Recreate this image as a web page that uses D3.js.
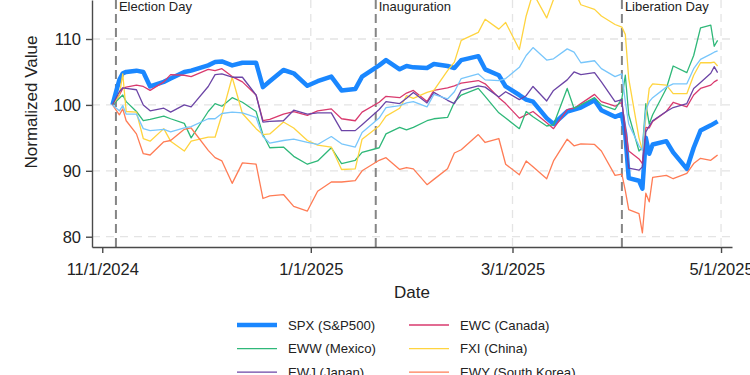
<!DOCTYPE html>
<html>
<head>
<meta charset="utf-8">
<script src="https://cdn.jsdelivr.net/npm/d3@7"></script>
<style>
body { margin: 0; background: #fff; }
text { font-family: "Liberation Sans", Arial, sans-serif; fill: #222; }
</style>
</head>
<body>
<svg></svg>
<script>
//variables globales
var width = 750;
var height = 375;

//los datos (dias de mercado)
var dates = [
  "2024-11-04","2024-11-06","2024-11-07","2024-11-08","2024-11-11","2024-11-13","2024-11-15","2024-11-19","2024-11-21","2024-11-25","2024-11-27",
  "2024-12-02","2024-12-04","2024-12-06","2024-12-09","2024-12-12","2024-12-16","2024-12-18","2024-12-20","2024-12-24","2024-12-27","2024-12-31",
  "2025-01-03","2025-01-07","2025-01-10","2025-01-14","2025-01-16","2025-01-21","2025-01-23","2025-01-27","2025-01-29","2025-01-31",
  "2025-02-04","2025-02-06","2025-02-10","2025-02-12","2025-02-14","2025-02-19","2025-02-21","2025-02-25","2025-02-27",
  "2025-03-03","2025-03-05","2025-03-07","2025-03-11","2025-03-13","2025-03-17","2025-03-19","2025-03-21","2025-03-25","2025-03-27","2025-03-31",
  "2025-04-02","2025-04-03","2025-04-04","2025-04-07","2025-04-08","2025-04-09","2025-04-10","2025-04-11","2025-04-15","2025-04-17","2025-04-21","2025-04-23","2025-04-25","2025-04-28","2025-04-29","2025-04-30"
];
var spx = [
  100, 103.8, 104.8, 105.0, 105.2, 105.0, 102.8, 103.5, 104.0, 105.0, 105.2,
  106.0, 106.5, 106.6, 106.0, 106.4, 106.4, 102.7, 103.6, 105.3, 104.8, 102.9,
  103.6, 104.3, 102.2, 102.4, 104.3, 106.0, 106.8, 105.4, 105.9, 105.7,
  105.6, 106.2, 105.9, 105.6, 106.8, 107.4, 105.4, 104.5, 102.8,
  101.5, 100.8, 100.5, 98.0, 97.1, 99.0, 99.3, 99.6, 100.7, 99.2, 98.2,
  98.6, 95.5, 88.9, 88.5, 87.3, 95.0, 92.6, 94.0, 94.5, 92.8, 90.3, 93.5, 96.1, 96.9, 97.2, 97.5
];
var ewc = [
  100, 101.5, 102.5, 102.7, 103.0, 102.8, 102.2, 103.5, 104.6, 104.5, 104.3,
  105.4, 105.2, 105.5, 104.3, 103.5, 101.5, 97.6, 97.8, 98.6, 99.0, 98.4,
  99.1, 99.4, 97.9, 97.6, 98.9, 100.4, 101.3, 101.1, 101.8, 102.2,
  100.5, 102.2, 102.6, 102.9, 103.3, 103.7, 103.2, 101.1, 100.2,
  98.0, 98.5, 99.0, 97.3, 96.4, 99.3, 99.5, 100.2, 101.6, 100.5, 99.8,
  100.4, 96.5, 93.0, 91.8, 91.1, 96.6, 96.5, 97.5, 99.0, 100.4, 99.7, 101.5, 102.5, 103.0, 103.5, 103.8
];
var eww = [
  100, 101.0, 101.5, 100.5, 99.0, 97.6, 97.8, 98.3, 97.9, 97.2, 95.0,
  99.0, 100.2, 99.8, 101.1, 100.4, 99.0, 95.5, 93.5, 93.6, 92.2, 91.0,
  91.5, 93.5, 91.1, 91.6, 92.8, 93.5, 95.6, 96.6, 96.2, 96.6,
  97.6, 97.9, 98.1, 100.4, 101.5, 102.5, 101.3, 98.8, 98.0,
  96.4, 99.0, 98.2, 96.8, 97.0, 102.5, 99.5, 100.0, 101.1, 100.0, 99.3,
  101.0, 104.5, 98.5, 93.0, 93.5, 100.2, 97.1, 98.5, 102.5, 105.9, 104.9, 107.5, 111.7, 112.1, 108.9, 109.8
];
var fxi = [
  100, 101.5, 104.7, 99.0, 98.9, 94.9, 94.5, 96.4, 94.5, 93.0, 94.5,
  95.1, 95.1, 98.5, 104.2, 98.7, 96.4, 95.5, 95.6, 97.4, 96.5, 94.6,
  93.9, 93.6, 90.2, 90.3, 94.8, 96.8, 98.3, 99.5, 101.4, 101.0,
  101.9, 102.2, 105.2, 106.5, 109.8, 111.0, 113.0, 111.5, 112.5,
  108.4, 113.5, 117.0, 113.2, 116.0, 118.0, 117.5, 115.2, 114.5, 113.5, 112.2,
  111.8, 110.7, 104.0, 95.0, 93.1, 98.1, 102.5, 103.2, 103.0, 101.7, 101.7, 104.5, 106.4, 106.4, 106.5, 105.9
];
var ewj = [
  100, 102.0, 102.6, 102.5, 102.3, 100.0, 99.1, 99.5, 98.9, 100.0, 99.7,
  102.8, 104.6, 104.7, 104.2, 104.2, 101.5, 97.4, 97.5, 97.6, 99.2, 98.6,
  98.8, 98.8, 96.1, 96.1, 97.0, 99.3, 100.5, 100.2, 101.0, 101.9,
  100.3, 101.9, 100.7, 100.2, 102.2, 102.9, 102.7, 101.2, 102.0,
  100.8, 101.4, 102.8, 100.6, 102.2, 103.8, 105.0, 104.6, 104.9, 103.5, 100.5,
  100.8, 95.0, 90.4, 90.1, 90.6, 95.9, 96.8, 97.6, 99.0, 99.6, 100.2, 102.5, 103.4, 104.8, 105.8, 104.9
];
var ewy = [
  100, 98.5, 99.4, 97.6, 95.6, 92.6, 92.4, 94.4, 94.6, 96.3, 96.5,
  93.1, 92.0, 91.5, 88.1, 91.2, 91.0, 85.8, 86.2, 86.4, 84.6, 83.9,
  86.9, 88.3, 88.3, 88.5, 90.0, 91.6, 92.0, 90.2, 90.5, 90.3,
  87.9, 88.7, 90.3, 92.7, 93.2, 95.5, 94.3, 94.9, 91.0,
  89.4, 91.5, 90.6, 88.8, 91.5, 94.8, 93.8, 94.1, 94.0, 93.0, 89.3,
  89.5, 87.0, 84.1, 83.5, 80.6, 86.6, 85.3, 89.0, 89.3, 88.8, 89.6, 91.1, 91.9, 91.6, 92.0, 92.4
];
var ewg = [
  100, 99.1, 99.9, 98.6, 98.6, 96.4, 96.1, 96.3, 95.9, 96.5, 96.7,
  97.9, 97.9, 98.7, 98.9, 98.8, 98.1, 95.2, 94.2, 94.6, 94.8, 94.3,
  94.0, 95.2, 94.1, 93.6, 95.8, 98.0, 99.6, 99.9, 100.3, 100.5,
  99.7, 101.6, 100.9, 102.0, 104.0, 104.7, 103.8, 103.7, 104.0,
  105.7, 107.5, 108.7, 106.8, 107.0, 108.5, 108.0, 106.4, 106.7, 105.5, 104.3,
  104.7, 100.5, 97.1, 93.8, 93.1, 99.1, 100.5, 101.1, 102.7, 103.2, 103.2, 105.5, 106.9, 107.7, 108.0, 108.2
];
var seriesNames = ["SPX (S&P500)", "EWC (Canada)", "EWW (Mexico)", "FXI (China)", "EWJ (Japan)", "EWY (South Korea)", "EWG (Germany)"];
var seriesValues = [spx, ewc, eww, fxi, ewj, ewy, ewg];
var yTicks = [80, 90, 100, 110];
var xTickLabels = ["11/1/2024", "1/1/2025", "3/1/2025", "5/1/2025"];
var eventNames = ["Election Day", "Inauguration", "Liberation Day"];
var eventDates = ["2024-11-05", "2025-01-20", "2025-04-02"];

//estilos
var colors = ["#1a87ff", "#d93a6e", "#2fb879", "#ffd43f", "#6c45a6", "#ff7c55", "#78c6fb"];
var widths = [4.5, 1.3, 1.3, 1.3, 1.3, 1.3, 1.3];

var parseDay = d3.utcParse("%Y-%m-%d");
var parseTick = d3.utcParse("%m/%d/%Y");

var series = seriesNames.map(function(name, k) {
  return { name: name, color: colors[k], width: widths[k],
    values: dates.map(function(d, i) { return { date: parseDay(d), value: seriesValues[k][i] }; }) };
});

//escalas
var x = d3.scaleUtc()
  .domain([new Date(Date.UTC(2024, 9, 29)), new Date(Date.UTC(2025, 4, 4, 5))])
  .range([92, 732]);
var y = d3.scaleLinear()
  .domain([78.44, 115.92])
  .range([247, 0]);

var svg = d3.select("svg")
  .attr("width", width)
  .attr("height", height)
  .style("background", "#fff");

//rejilla
svg.append("g").selectAll("line")
  .data(yTicks)
  .enter().append("line")
  .attr("x1", 92).attr("x2", 732)
  .attr("y1", function(d) { return y(d); })
  .attr("y2", function(d) { return y(d); })
  .attr("stroke", "#e4e4e4").attr("stroke-width", 1.3)
  .attr("stroke-dasharray", "8,6");
svg.append("g").selectAll("line")
  .data(xTickLabels.slice(1))
  .enter().append("line")
  .attr("x1", function(d) { return x(parseTick(d)); })
  .attr("x2", function(d) { return x(parseTick(d)); })
  .attr("y1", 0).attr("y2", 247)
  .attr("stroke", "#e4e4e4").attr("stroke-width", 1.3)
  .attr("stroke-dasharray", "8,6");

//eventos
var ev = svg.append("g").selectAll("g")
  .data(eventNames)
  .enter().append("g");
ev.append("line")
  .attr("x1", function(d, i) { return x(parseDay(eventDates[i])); })
  .attr("x2", function(d, i) { return x(parseDay(eventDates[i])); })
  .attr("y1", 0).attr("y2", 247)
  .attr("stroke", "#858585").attr("stroke-width", 2)
  .attr("stroke-dasharray", "9,5");
ev.append("text")
  .attr("x", function(d, i) { return x(parseDay(eventDates[i])) + 3; })
  .attr("y", 11)
  .attr("font-size", 13)
  .text(function(d) { return d; });

//lineas
var line = d3.line()
  .x(function(d) { return x(d.date); })
  .y(function(d) { return y(d.value); });
svg.append("g").selectAll("path")
  .data(series)
  .enter().append("path")
  .attr("d", function(d) { return line(d.values); })
  .attr("fill", "none")
  .attr("stroke", function(d) { return d.color; })
  .attr("stroke-width", function(d) { return d.width; })
  .attr("stroke-linejoin", "round");

//ejes
var xAxis = svg.append("g")
  .attr("transform", "translate(0,247)")
  .call(d3.axisBottom(x)
    .tickValues(xTickLabels.map(parseTick))
    .tickFormat(function(d, i) { return xTickLabels[i]; })
    .tickSize(6).tickSizeOuter(0).tickPadding(10));
var yAxis = svg.append("g")
  .attr("transform", "translate(92,0)")
  .call(d3.axisLeft(y).tickValues(yTicks).tickSize(6).tickSizeOuter(0).tickPadding(5));
svg.selectAll(".domain, .tick line")
  .attr("stroke", "#4a4a4a").attr("stroke-width", 1.4);
svg.selectAll(".tick text")
  .attr("font-size", 16.5)
  .attr("font-family", "Liberation Sans, Arial, sans-serif")
  .attr("fill", "#222");

//titulos
svg.append("text")
  .attr("x", 412).attr("y", 298)
  .attr("text-anchor", "middle")
  .attr("font-size", 17)
  .text("Date");
svg.append("text")
  .attr("transform", "translate(37,102) rotate(-90)")
  .attr("text-anchor", "middle")
  .attr("font-size", 17)
  .text("Normalized Value");

//leyenda
var leg = svg.append("g").selectAll("g")
  .data(series)
  .enter().append("g")
  .attr("transform", function(d, i) { return "translate(" + (i % 2 === 0 ? 237 : 409) + "," + (325 + Math.floor(i / 2) * 23.6) + ")"; });
leg.append("line")
  .attr("x1", 0).attr("x2", 40)
  .attr("stroke", function(d) { return d.color; })
  .attr("stroke-width", function(d) { return d.width; });
leg.append("text")
  .attr("x", 51).attr("dy", "0.35em")
  .attr("font-size", 13.2)
  .text(function(d) { return d.name; });
</script>
</body>
</html>
